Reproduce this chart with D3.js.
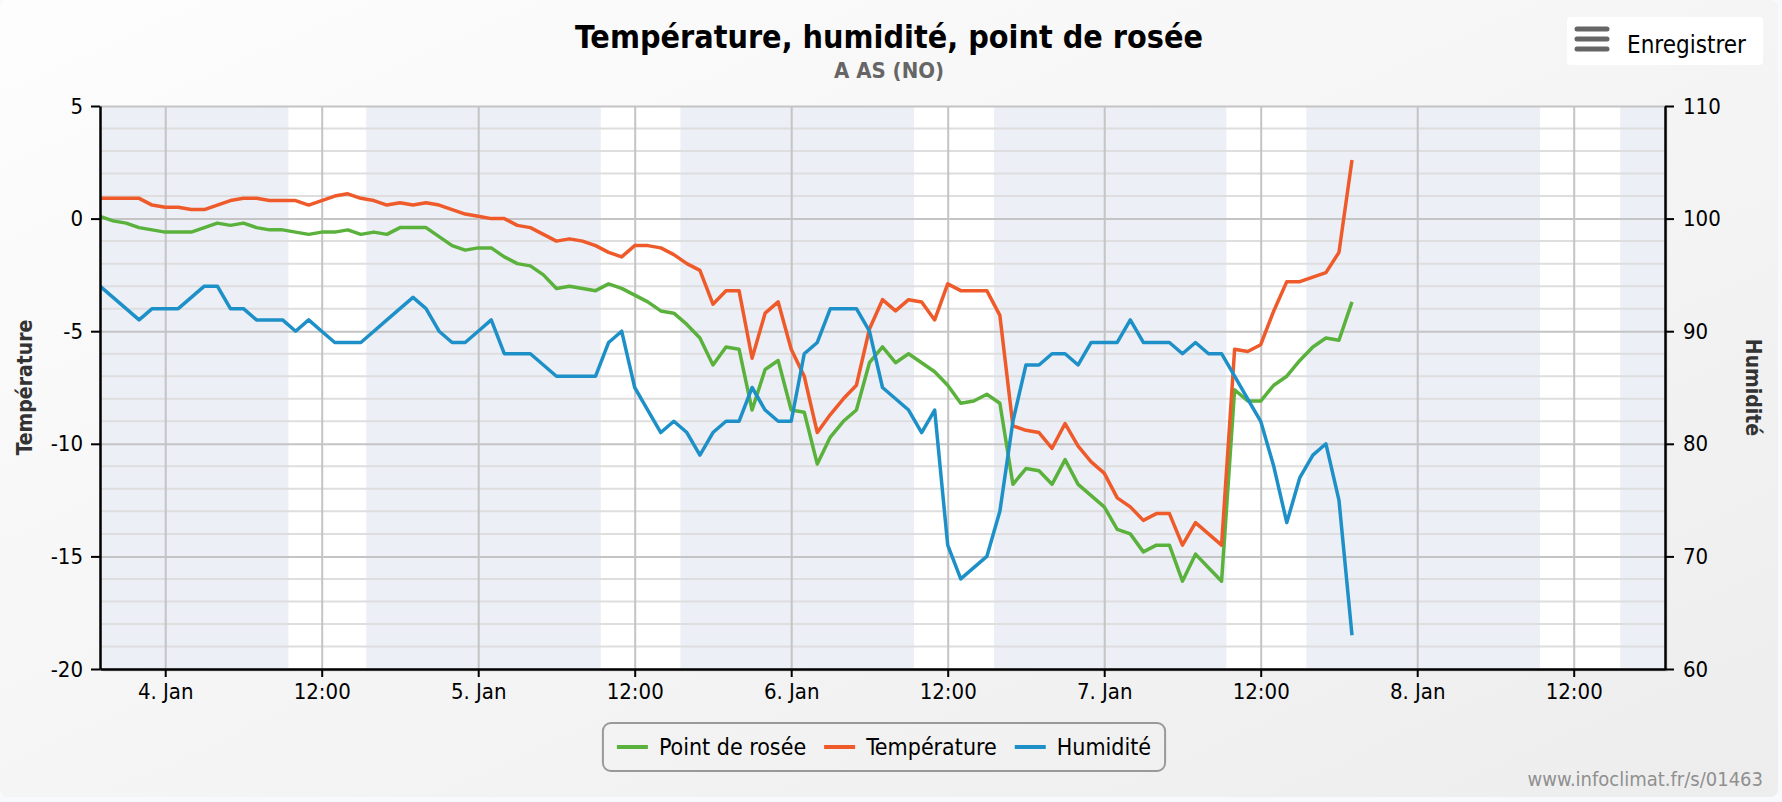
<!DOCTYPE html>
<html>
<head>
<meta charset="utf-8">
<script src="https://cdn.jsdelivr.net/npm/d3@7"></script>
<style>
  body { margin: 0; background: #f7f9fc; }
  svg text { font-family: "DejaVu Sans Condensed", "DejaVu Sans", sans-serif; font-stretch: condensed; }
</style>
</head>
<body>
<div id="chart"></div>
<script>
// hourly readings, first one is 3 Jan 19:00
var startTime = Date.UTC(2016, 0, 3, 19);
var endTime = Date.UTC(2016, 0, 8, 19);

var dewPoint = [
  0.1, -0.1, -0.2, -0.4, -0.5,
  -0.6, -0.6, -0.6, -0.4, -0.2, -0.3, -0.2, -0.4, -0.5, -0.5,
  -0.6, -0.7, -0.6, -0.6, -0.5, -0.7, -0.6, -0.7, -0.4, -0.4,
  -0.4, -0.8, -1.2, -1.4, -1.3, -1.3, -1.7, -2.0, -2.1, -2.5,
  -3.1, -3.0, -3.1, -3.2, -2.9, -3.1, -3.4, -3.7, -4.1, -4.2,
  -4.7, -5.3, -6.5, -5.7, -5.8, -8.5, -6.7, -6.3, -8.5, -8.6,
  -10.9, -9.7, -9.0, -8.5, -6.4, -5.7, -6.4, -6.0, -6.4, -6.8,
  -7.4, -8.2, -8.1, -7.8, -8.2, -11.8, -11.1, -11.2, -11.8, -10.7,
  -11.8, -12.3, -12.8, -13.8, -14.0, -14.8, -14.5, -14.5, -16.1, -14.9,
  -15.5, -16.1, -7.6, -8.1, -8.1, -7.4, -7.0, -6.3, -5.7, -5.3,
  -5.4, -3.7
];

var temperature = [
  0.9, 0.9, 0.9, 0.9, 0.6,
  0.5, 0.5, 0.4, 0.4, 0.6, 0.8, 0.9, 0.9, 0.8, 0.8,
  0.8, 0.6, 0.8, 1.0, 1.1, 0.9, 0.8, 0.6, 0.7, 0.6,
  0.7, 0.6, 0.4, 0.2, 0.1, 0.0, 0.0, -0.3, -0.4, -0.7,
  -1.0, -0.9, -1.0, -1.2, -1.5, -1.7, -1.2, -1.2, -1.3, -1.6,
  -2.0, -2.3, -3.8, -3.2, -3.2, -6.2, -4.2, -3.7, -5.8, -7.0,
  -9.5, -8.7, -8.0, -7.4, -4.9, -3.6, -4.1, -3.6, -3.7, -4.5,
  -2.9, -3.2, -3.2, -3.2, -4.3, -9.2, -9.4, -9.5, -10.2, -9.1,
  -10.1, -10.8, -11.3, -12.4, -12.8, -13.4, -13.1, -13.1, -14.5, -13.5,
  -14.0, -14.5, -5.8, -5.9, -5.6, -4.1, -2.8, -2.8, -2.6, -2.4,
  -1.5, 2.6
];

var humidity = [
  94, 93, 92, 91, 92,
  92, 92, 93, 94, 94, 92, 92, 91, 91, 91,
  90, 91, 90, 89, 89, 89, 90, 91, 92, 93,
  92, 90, 89, 89, 90, 91, 88, 88, 88, 87,
  86, 86, 86, 86, 89, 90, 85, 83, 81, 82,
  81, 79, 81, 82, 82, 85, 83, 82, 82, 88,
  89, 92, 92, 92, 90, 85, 84, 83, 81, 83,
  71, 68, 69, 70, 74, 82, 87, 87, 88, 88,
  87, 89, 89, 89, 91, 89, 89, 89, 88, 89,
  88, 88, 86, 84, 82, 78, 73, 77, 79, 80,
  75, 63
];

// daylight periods (white bands)
var sunrise = [Date.UTC(2016, 0, 4, 9, 27), Date.UTC(2016, 0, 5, 9, 24), Date.UTC(2016, 0, 6, 9, 25),
  Date.UTC(2016, 0, 7, 9, 22), Date.UTC(2016, 0, 8, 9, 25)];
var sunset = [Date.UTC(2016, 0, 4, 15, 25), Date.UTC(2016, 0, 5, 15, 30), Date.UTC(2016, 0, 6, 15, 33),
  Date.UTC(2016, 0, 7, 15, 30), Date.UTC(2016, 0, 8, 15, 34)];

var seriesNames = ['Point de rosée', 'Température', 'Humidité'];
var seriesColors = ['#5ab23c', '#ef5a2a', '#1e90c8'];
var tempTicks = [-20, -15, -10, -5, 0, 5];
var humTicks = [60, 70, 80, 90, 100, 110];

var svgWidth = 1782;
var svgHeight = 802;

var margin = {
  top: 106,
  right: 117,
  bottom: 133,
  left: 100
};
var width = svgWidth - margin.left - margin.right;
var height = svgHeight - margin.top - margin.bottom;

var svg = d3.select('#chart')
  .append('svg')
  .attr('width', svgWidth)
  .attr('height', svgHeight);

var defs = svg.append('defs');
var grad = defs.append('linearGradient')
  .attr('id', 'bg')
  .attr('x1', 0).attr('y1', 0).attr('x2', 1).attr('y2', 1);
grad.append('stop').attr('offset', '0%').attr('stop-color', '#fdfdfd');
grad.append('stop').attr('offset', '100%').attr('stop-color', '#ededed');

defs.append('clipPath')
  .attr('id', 'plotClip')
  .append('rect')
  .attr('width', width)
  .attr('height', height);

// background of the whole chart
svg.append('rect')
  .attr('width', svgWidth - 4)
  .attr('height', svgHeight - 5)
  .attr('rx', 8)
  .attr('fill', 'url(#bg)');

var chartGroup = svg.append('g')
  .attr('transform', `translate(${margin.left}, ${margin.top})`);

// scales
var x = d3.scaleUtc()
  .domain([startTime, endTime])
  .range([0, width]);

var yTemp = d3.scaleLinear()
  .domain([-20, 5])
  .range([height, 0]);

var yHum = d3.scaleLinear()
  .domain([60, 110])
  .range([height, 0]);

// plot shadow + background
chartGroup.append('rect')
  .attr('x', 3).attr('y', 3)
  .attr('width', width).attr('height', height)
  .attr('fill', '#000').attr('opacity', 0.06);
chartGroup.append('rect')
  .attr('x', 1.5).attr('y', 1.5)
  .attr('width', width).attr('height', height)
  .attr('fill', '#000').attr('opacity', 0.06);
chartGroup.append('rect')
  .attr('width', width).attr('height', height)
  .attr('fill', '#eceff6');

// daylight bands
chartGroup.append('g')
  .attr('clip-path', 'url(#plotClip)')
  .selectAll('rect')
  .data(sunrise)
  .enter()
  .append('rect')
  .attr('x', d => x(d))
  .attr('y', 0)
  .attr('width', (d, i) => x(sunset[i]) - x(d))
  .attr('height', height)
  .attr('fill', '#ffffff');

// minor grid, every degree
var minorTicks = d3.range(-20, 6, 1).filter(v => tempTicks.indexOf(v) < 0);
chartGroup.append('g')
  .selectAll('line')
  .data(minorTicks)
  .enter()
  .append('line')
  .attr('x1', 0).attr('x2', width)
  .attr('y1', d => yTemp(d)).attr('y2', d => yTemp(d))
  .attr('stroke', '#dedede')
  .attr('stroke-width', 2);

// major grid
chartGroup.append('g')
  .attr('class', 'grid')
  .call(d3.axisLeft(yTemp).tickValues(tempTicks).tickSize(-width).tickFormat(''))
  .call(g => g.select('.domain').remove())
  .call(g => g.selectAll('line').attr('stroke', '#c4c4c4').attr('stroke-width', 2));

chartGroup.append('g')
  .attr('class', 'grid')
  .attr('transform', `translate(0, ${height})`)
  .call(d3.axisBottom(x).ticks(d3.utcHour.every(12)).tickSize(-height).tickFormat(''))
  .call(g => g.select('.domain').remove())
  .call(g => g.selectAll('line').attr('stroke', '#c4c4c4').attr('stroke-width', 2));

// lines
var times = temperature.map((d, i) => startTime + i * 3600000);
var seriesData = [dewPoint, temperature, humidity];
var seriesScale = [yTemp, yTemp, yHum];

var linesGroup = chartGroup.append('g')
  .attr('clip-path', 'url(#plotClip)');

seriesData.forEach(function(values, k) {
  var line = d3.line()
    .x((d, i) => x(times[i]))
    .y(d => seriesScale[k](d));
  linesGroup.append('path')
    .datum(values)
    .attr('d', line)
    .attr('fill', 'none')
    .attr('stroke', seriesColors[k])
    .attr('stroke-width', 3.5)
    .attr('stroke-linejoin', 'round');
});

// axes
function styleAxis(g) {
  g.select('.domain').attr('stroke', '#000').attr('stroke-width', 2.5);
  g.selectAll('.tick line').attr('stroke', '#000').attr('stroke-width', 2);
  g.selectAll('.tick text').attr('fill', '#000').attr('font-size', 22);
}

// plain hyphen for negatives, like the original
var plainNumber = d => String(d);

chartGroup.append('g')
  .call(d3.axisLeft(yTemp).tickValues(tempTicks).tickFormat(plainNumber)
    .tickSize(9).tickSizeOuter(0).tickPadding(8))
  .call(styleAxis);

chartGroup.append('g')
  .attr('transform', `translate(${width}, 0)`)
  .call(d3.axisRight(yHum).tickValues(humTicks).tickFormat(plainNumber)
    .tickSize(9).tickSizeOuter(0).tickPadding(9))
  .call(styleAxis);

chartGroup.append('g')
  .attr('transform', `translate(0, ${height})`)
  .call(d3.axisBottom(x)
    .ticks(d3.utcHour.every(12))
    .tickSize(8)
    .tickSizeOuter(0)
    .tickPadding(6)
    .tickFormat(d => d.getUTCHours() === 0 ? d3.utcFormat('%-d. %b')(d) : d3.utcFormat('%H:%M')(d)))
  .call(styleAxis);

// axis titles
svg.append('text')
  .attr('transform', `translate(25, ${margin.top + height / 2}) rotate(-90)`)
  .attr('text-anchor', 'middle')
  .attr('dy', '0.35em')
  .attr('font-size', 21)
  .attr('font-weight', 'bold')
  .attr('fill', '#333')
  .text('Température');

svg.append('text')
  .attr('transform', `translate(1753, ${margin.top + height / 2}) rotate(90)`)
  .attr('text-anchor', 'middle')
  .attr('dy', '0.35em')
  .attr('font-size', 21)
  .attr('font-weight', 'bold')
  .attr('fill', '#333')
  .text('Humidité');

// title
svg.append('text')
  .attr('x', 889).attr('y', 48)
  .attr('text-anchor', 'middle')
  .attr('font-size', 32)
  .attr('font-weight', 'bold')
  .attr('fill', '#000')
  .text('Température, humidité, point de rosée');

svg.append('text')
  .attr('x', 889).attr('y', 78)
  .attr('text-anchor', 'middle')
  .attr('font-size', 22)
  .attr('font-weight', 'bold')
  .attr('fill', '#666')
  .text('A AS (NO)');

// export button
var button = svg.append('g')
  .attr('transform', 'translate(1567, 17)');
button.append('rect')
  .attr('width', 196).attr('height', 48)
  .attr('rx', 4)
  .attr('fill', '#fff');
[12, 22, 32].forEach(function(yy) {
  button.append('line')
    .attr('x1', 10).attr('x2', 40)
    .attr('y1', yy).attr('y2', yy)
    .attr('stroke', '#666')
    .attr('stroke-width', 5)
    .attr('stroke-linecap', 'round');
});
button.append('text')
  .attr('x', 60).attr('y', 36)
  .attr('font-size', 24)
  .attr('fill', '#000')
  .text('Enregistrer');

// legend
var legend = svg.append('g');
var legendItems = legend.selectAll('g')
  .data(seriesNames)
  .enter()
  .append('g');

legendItems.append('line')
  .attr('x1', 0).attr('x2', 31)
  .attr('y1', 0).attr('y2', 0)
  .attr('stroke', (d, i) => seriesColors[i])
  .attr('stroke-width', 4);

legendItems.append('text')
  .attr('x', 42)
  .attr('dy', '0.35em')
  .attr('font-size', 23)
  .attr('fill', '#000')
  .text(d => d);

var pos = 14;
legendItems.each(function() {
  var item = d3.select(this);
  item.attr('transform', `translate(${pos}, 0)`);
  pos += 42 + item.select('text').node().getComputedTextLength() + 18;
});
var legendWidth = pos - 18 + 14;
var legendX = 884 - legendWidth / 2;
legend.attr('transform', `translate(${legendX}, 747)`);
legend.insert('rect', ':first-child')
  .attr('x', 0).attr('y', -24)
  .attr('width', legendWidth).attr('height', 48)
  .attr('rx', 8)
  .attr('fill', 'none')
  .attr('stroke', '#999')
  .attr('stroke-width', 2);

// credits
svg.append('text')
  .attr('x', 1763).attr('y', 786)
  .attr('text-anchor', 'end')
  .attr('font-size', 20)
  .attr('fill', '#909090')
  .text('www.infoclimat.fr/s/01463');
</script>
</body>
</html>
